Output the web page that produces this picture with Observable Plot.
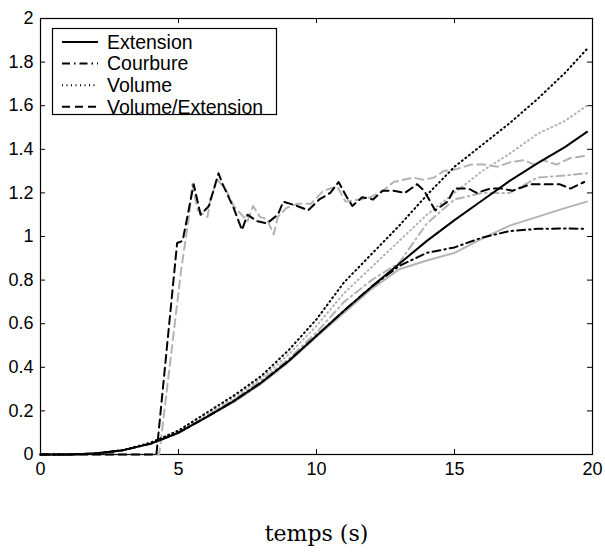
<!DOCTYPE html>
<html><head><meta charset="utf-8">
<script src="https://cdn.jsdelivr.net/npm/d3@7"></script>
<script src="https://cdn.jsdelivr.net/npm/@observablehq/plot@0.6"></script>
<style>
body{margin:0;background:#fff;}
#chart{position:relative;width:605px;height:556px;}
</style>
</head><body><div id="chart"></div>
<script>
// ---- data ----
const xTicks = [0, 5, 10, 15, 20];
const yTicks = [0, 0.2, 0.4, 0.6, 0.8, 1, 1.2, 1.4, 1.6, 1.8, 2];
const xLabel = "temps (s)";
const legendNames = ["Extension", "Courbure", "Volume", "Volume/Extension"];

const tSmooth = [0,1,2,3,4,5,6,7,8,9,10,11,12,13,14,15,16,17,18,19,19.8];
const extensionBlack = [0,0,0.005,0.02,0.05,0.1,0.17,0.245,0.33,0.43,0.545,0.66,0.77,0.875,0.98,1.075,1.165,1.255,1.335,1.41,1.48];
const extensionGrey  = [0,0,0.005,0.02,0.05,0.1,0.17,0.24,0.325,0.425,0.54,0.65,0.76,0.85,0.89,0.925,0.99,1.05,1.09,1.13,1.16];
const courbureBlack  = [0,0,0.005,0.02,0.05,0.1,0.17,0.245,0.33,0.43,0.545,0.66,0.77,0.865,0.925,0.95,0.995,1.025,1.035,1.037,1.035];
const courbureGrey   = [0,0,0.005,0.02,0.05,0.1,0.175,0.25,0.34,0.44,0.56,0.70,0.80,0.88,1.06,1.17,1.2,1.2,1.27,1.28,1.29];
const volumeBlack    = [0,0,0.005,0.02,0.055,0.11,0.19,0.27,0.36,0.48,0.62,0.79,0.92,1.05,1.19,1.32,1.42,1.52,1.63,1.75,1.86];
const volumeGrey     = [0,0,0.005,0.02,0.05,0.105,0.18,0.26,0.35,0.46,0.59,0.74,0.86,0.98,1.1,1.2,1.3,1.38,1.47,1.53,1.6];

const ratioBlackT = [0,4.2,4.95,5.15,5.55,5.8,6.1,6.45,6.6,7.0,7.3,7.5,7.85,8.2,8.6,8.8,9.3,9.7,10.1,10.5,10.8,11.1,11.3,11.65,12.05,12.4,12.8,13.2,13.65,13.9,14.3,14.75,15.0,15.5,15.8,16.3,16.7,17.1,17.75,18.3,18.8,19.2,19.7];
const ratioBlackY = [0,0,0.97,0.98,1.24,1.10,1.14,1.29,1.24,1.13,1.03,1.10,1.07,1.06,1.10,1.16,1.14,1.12,1.17,1.20,1.25,1.18,1.14,1.18,1.17,1.21,1.21,1.20,1.24,1.21,1.12,1.16,1.22,1.22,1.20,1.22,1.22,1.21,1.24,1.24,1.24,1.22,1.25];
const ratioGreyT = [0,4.3,5.1,5.25,5.4,5.5,5.7,6.05,6.15,6.4,6.7,7.0,7.5,7.7,7.95,8.2,8.45,8.6,8.9,9.3,9.8,10.25,10.75,11.05,11.6,11.95,12.4,12.8,13.15,13.5,13.9,14.25,14.6,15.1,15.6,16.05,16.55,17.0,17.5,17.9,18.2,18.7,19.2,19.75];
const ratioGreyY = [0,0,0.85,0.98,1.11,1.24,1.12,1.09,1.17,1.26,1.22,1.14,1.07,1.14,1.09,1.08,1.01,1.09,1.13,1.15,1.15,1.21,1.23,1.16,1.17,1.18,1.21,1.25,1.26,1.27,1.26,1.27,1.30,1.31,1.33,1.33,1.32,1.34,1.35,1.33,1.35,1.33,1.36,1.37];

// ---- styles ----
const BLACK = "#000", GREY = "#b3b3b3";
const DASH = {solid: null, dashdot: "8,4,1.5,4", dotted: "1,3.5", dashed: "8,5"};

const series = [
  {t: tSmooth, y: extensionGrey, color: GREY, dash: DASH.solid},
  {t: tSmooth, y: courbureGrey, color: GREY, dash: DASH.dashdot},
  {t: tSmooth, y: volumeGrey, color: GREY, dash: DASH.dotted},
  {t: ratioGreyT, y: ratioGreyY, color: GREY, dash: DASH.dashed},
  {t: tSmooth, y: extensionBlack, color: BLACK, dash: DASH.solid},
  {t: tSmooth, y: courbureBlack, color: BLACK, dash: DASH.dashdot},
  {t: tSmooth, y: volumeBlack, color: BLACK, dash: DASH.dotted},
  {t: ratioBlackT, y: ratioBlackY, color: BLACK, dash: DASH.dashed}
];

const W = 605, H = 556, mT = 18, mB = 102, mL = 40, mR = 13;
const plotH = H - mT - mB, plotW = W - mL - mR, TL = 5;

const lineMarks = series.map(s =>
  Plot.line(s.t.map((t, i) => ({t, v: s.y[i]})), {
    x: "t", y: "v", stroke: s.color, strokeWidth: 2,
    strokeDasharray: s.dash, strokeLinejoin: "round"
  })
);

const plot = Plot.plot({
  width: W, height: H,
  marginTop: mT, marginBottom: mB, marginLeft: mL, marginRight: mR,
  style: {fontFamily: "'Liberation Sans', Arial, sans-serif", fontSize: "18px", background: "#fff", color: "#000"},
  x: {domain: [0, 20]},
  y: {domain: [0, 2]},
  marks: [
    Plot.frame({stroke: "#000", strokeWidth: 1.2}),
    Plot.tickX(xTicks, {x: d => d, insetTop: plotH - TL, stroke: "#000"}),
    Plot.tickX(xTicks, {x: d => d, insetBottom: plotH - TL, stroke: "#000"}),
    Plot.tickY(yTicks, {y: d => d, insetRight: plotW - TL, stroke: "#000"}),
    Plot.tickY(yTicks, {y: d => d, insetLeft: plotW - TL, stroke: "#000"}),
    Plot.axisX({ticks: xTicks, tickSize: 0, tickPadding: 8, fontSize: 18, label: null, tickFormat: d => String(d)}),
    Plot.axisY({ticks: yTicks, tickSize: 0, tickPadding: 7, fontSize: 18, label: null, tickFormat: d => String(d)}),
    ...lineMarks,
    Plot.text([xLabel], {text: d => d, frameAnchor: "bottom", dy: 86, fontFamily: "'DejaVu Serif', serif", fontSize: 22, fill: "#000"})
  ]
});

// legend box drawn inside the plot area
const svg = d3.select(plot);
const lg = svg.append("g").attr("class", "legend").attr("text-anchor", "start");
lg.append("rect").attr("x", 52.5).attr("y", 28.5).attr("width", 224).attr("height", 86)
  .attr("fill", "#fff").attr("stroke", "#000").attr("stroke-width", 1.2);
const legendDash = [DASH.solid, DASH.dashdot, DASH.dotted, DASH.dashed];
legendNames.forEach((name, i) => {
  const cy = 42 + i * 21.6;
  lg.append("line").attr("x1", 62).attr("x2", 98).attr("y1", cy).attr("y2", cy)
    .attr("stroke", "#000").attr("stroke-width", 2)
    .attr("stroke-dasharray", legendDash[i]);
  lg.append("text").attr("x", 107).attr("y", cy).attr("dy", "0.35em")
    .attr("text-anchor", "start")
    .attr("font-size", 19.5).attr("fill", "#000")
    .attr("font-family", "'Liberation Sans', Arial, sans-serif").text(name);
});

document.getElementById("chart").appendChild(plot);
</script>
</body></html>
